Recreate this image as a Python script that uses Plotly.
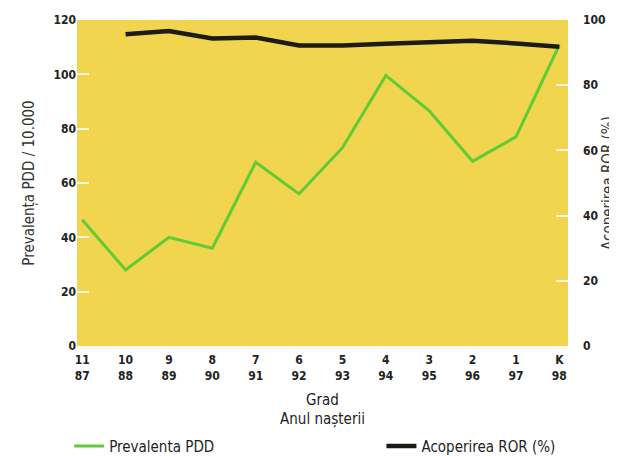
import plotly.graph_objects as go

grad_labels = ["11", "10", "9", "8", "7", "6", "5", "4", "3", "2", "1", "K"]
year_labels = ["87", "88", "89", "90", "91", "92", "93", "94", "95", "96", "97", "98"]
prevalenta_pdd = [46.5, 28, 40, 36, 67.6, 56, 73, 99.6, 86.6, 68, 77, 110.8]
acoperire_ror = [None, 95.6, 96.6, 94.3, 94.6, 92.2, 92.2, 92.7, 93.0, 93.6, 92.8, 91.8]

xpos = list(range(len(grad_labels)))
ticktext = [f"{g}<br>{y}" for g, y in zip(grad_labels, year_labels)]

FONT = "Liberation Sans Narrow, DejaVu Sans Condensed, Arial Narrow, sans-serif"
TXT = "#222"

fig = go.Figure()
fig.add_trace(go.Scatter(x=xpos, y=prevalenta_pdd, mode="lines", name="Prevalenta PDD",
                         line=dict(color="#5fcb35", width=3), legend="legend"))
fig.add_trace(go.Scatter(x=xpos, y=acoperire_ror, mode="lines", name="Acoperirea ROR (%)",
                         line=dict(color="#1c1c16", width=4.5), yaxis="y2", legend="legend2"))

leg_common = dict(orientation="h", yref="container", yanchor="middle", y=0.022, xanchor="left",
                  font=dict(size=15, family=FONT, color=TXT), bgcolor="rgba(0,0,0,0)",
                  itemwidth=30)

# page body has an 8px default margin, so the figure is sized to fill the rest of the window
fig.update_layout(
    width=609, height=448,
    margin=dict(l=69, r=49, t=12, b=110, autoexpand=False),
    paper_bgcolor="white",
    plot_bgcolor="#f1d54f",
    font=dict(family=FONT, color=TXT),
    showlegend=True,
    legend=dict(x=-0.016, **leg_common),
    legend2=dict(x=0.62, **leg_common),
    xaxis=dict(range=[-0.12, 11.2], tickvals=xpos, ticktext=ticktext,
               showgrid=False, zeroline=False, showline=False, ticks="",
               ticklabelstandoff=5, automargin=True,
               tickfont=dict(size=12, family=FONT, color=TXT, weight="bold"),
               title=dict(text="Grad<br>Anul nașterii", font=dict(size=15, family=FONT, color=TXT),
                          standoff=12)),
    yaxis=dict(range=[0, 120], tickvals=[0, 20, 40, 60, 80, 100, 120],
               showgrid=False, zeroline=False, showline=False,
               ticks="inside", ticklen=12, tickwidth=2, tickcolor="rgba(255,255,255,0.8)",
               tickfont=dict(size=12, family=FONT, color=TXT, weight="bold"),
               title=dict(text="Prevalența PDD / 10.000", font=dict(size=15, family=FONT, color="#333"))),
    yaxis2=dict(range=[0, 100], tickvals=[0, 20, 40, 60, 80, 100], overlaying="y", side="right",
                showgrid=False, zeroline=False, showline=False,
                ticks="inside", ticklen=12, tickwidth=2, tickcolor="rgba(255,255,255,0.8)",
                ticklabelstandoff=14, automargin=True,
                tickfont=dict(size=12, family=FONT, color=TXT, weight="bold"),
                title=dict(text="Acoperirea ROR (%)", font=dict(size=15, family=FONT, color="#333"),
                           standoff=10)),
)

fig.write_html("out.html")
